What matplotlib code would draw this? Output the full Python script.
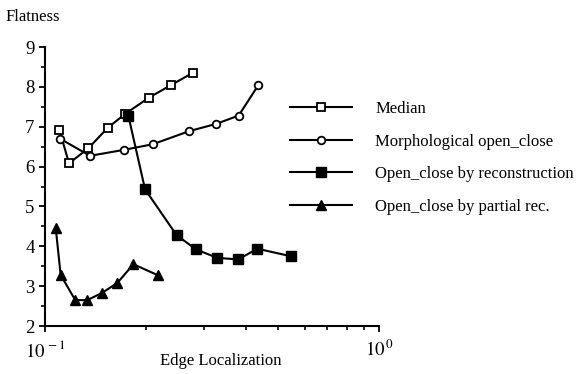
import matplotlib
matplotlib.use('Agg')
import matplotlib.pyplot as plt
from matplotlib.ticker import FixedLocator, NullFormatter, MultipleLocator

plt.rcParams['font.family'] = ['Liberation Serif', 'DejaVu Serif']
plt.rcParams['mathtext.fontset'] = 'stix'

# data (x is log scale)
median_x = [0.1104, 0.1180, 0.1348, 0.154, 0.1736, 0.2048, 0.2378, 0.278]
median_y = [6.93, 6.08, 6.46, 6.97, 7.32, 7.73, 8.04, 8.36]

morph_x = [0.1109, 0.1364, 0.1723, 0.2101, 0.2704, 0.325, 0.380, 0.435]
morph_y = [6.70, 6.27, 6.42, 6.56, 6.89, 7.07, 7.28, 8.04]

recon_x = [0.1777, 0.1993, 0.2477, 0.2834, 0.328, 0.379, 0.432, 0.545]
recon_y = [7.27, 5.43, 4.28, 3.92, 3.71, 3.67, 3.94, 3.75]

partial_x = [0.1077, 0.1114, 0.1232, 0.1339, 0.1481, 0.1646, 0.1839, 0.2183]
partial_y = [4.45, 3.28, 2.65, 2.65, 2.83, 3.08, 3.55, 3.27]

labels = ['Median', 'Morphological open_close', 'Open_close by reconstruction',
          'Open_close by partial rec.']

fig = plt.figure(figsize=(5.86, 3.74), dpi=100)
ax = fig.add_axes([0.0768, 0.1283, 0.57, 0.746])

kw = dict(color='black', lw=1.5)
ax.plot(median_x, median_y, marker='s', ms=6, mfc='white', mec='black', mew=1.3, label=labels[0], **kw)
ax.plot(morph_x, morph_y, marker='o', ms=5.5, mfc='white', mec='black', mew=1.3, label=labels[1], **kw)
ax.plot(recon_x, recon_y, marker='s', ms=7.5, mfc='black', mec='black', label=labels[2], **kw)
ax.plot(partial_x, partial_y, marker='^', ms=7, mfc='black', mec='black', label=labels[3], **kw)

ax.set_xscale('log')
ax.set_xlim(0.1, 1.0)
ax.set_ylim(2, 9)
ax.xaxis.set_major_locator(FixedLocator([0.1, 1.0]))
ax.xaxis.set_minor_locator(FixedLocator([0.2, 0.3, 0.4, 0.5, 0.6, 0.7, 0.8, 0.9]))
ax.xaxis.set_minor_formatter(NullFormatter())
ax.set_xticklabels([r'$10^{\,-1}$', r'$10^{\,0}$'])
ax.yaxis.set_major_locator(MultipleLocator(1))
ax.yaxis.set_minor_locator(MultipleLocator(0.5))

for s in ['top', 'right']:
    ax.spines[s].set_visible(False)
for s in ['left', 'bottom']:
    ax.spines[s].set_linewidth(1.5)
ax.tick_params(axis='both', which='major', length=4, width=1.3, labelsize=13.5, direction='out')
ax.tick_params(axis='both', which='minor', length=3, width=1.2, direction='out')
ax.tick_params(axis='x', which='major', pad=6)

fig.text(0.01, 0.955, 'Flatness', fontsize=12, va='center', ha='left')
fig.text(0.377, 0.035, 'Edge Localization', fontsize=12, va='center', ha='center')

fig.legend(loc='upper left', bbox_to_anchor=(0.484, 0.748), frameon=False, fontsize=12,
           handlelength=3.7, handletextpad=1.4, labelspacing=1.0, borderaxespad=0)

fig.savefig('out.png', dpi=100)
